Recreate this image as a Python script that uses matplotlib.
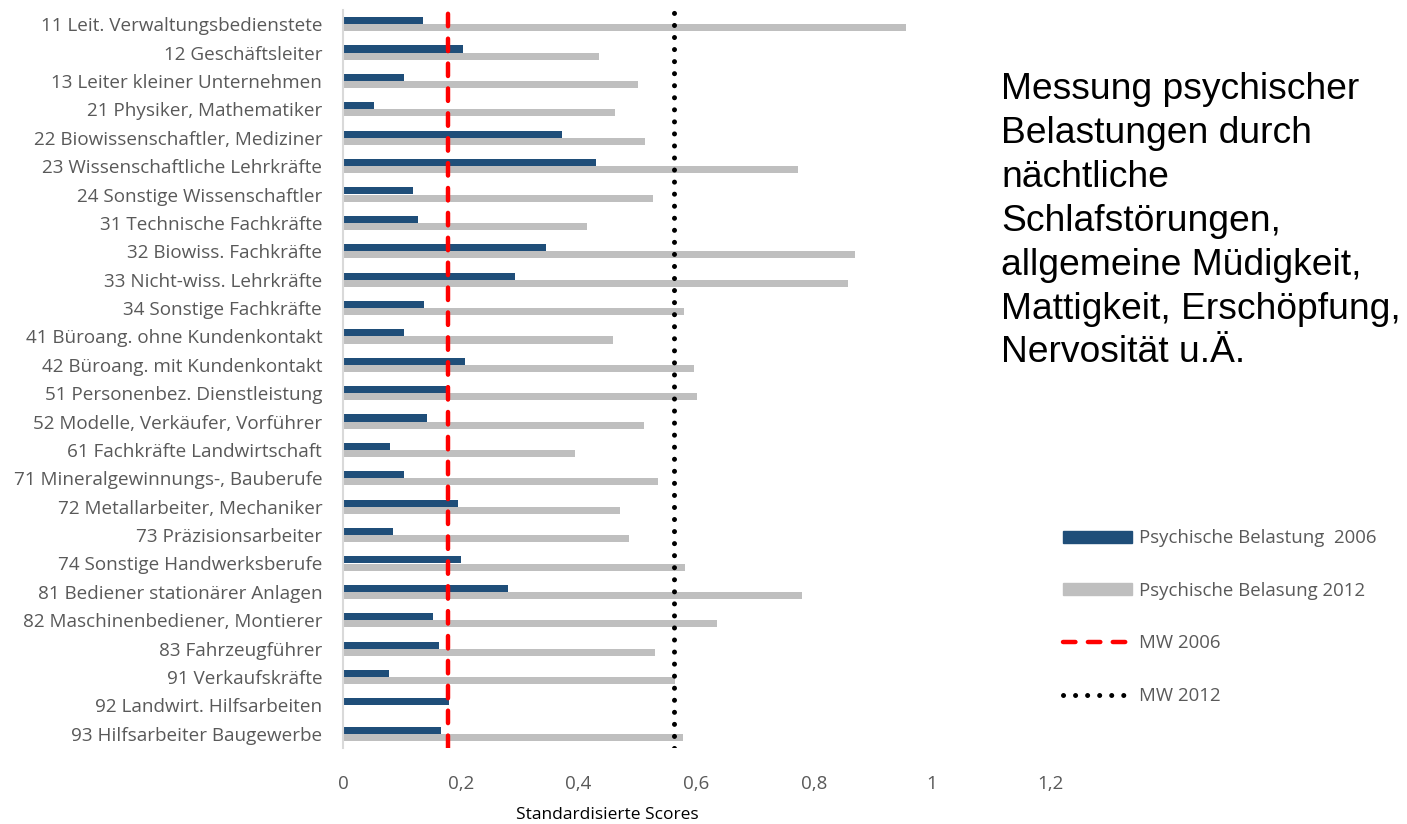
import numpy as np
import matplotlib.pyplot as plt
from matplotlib.patches import Patch
from matplotlib.lines import Line2D

# Berufsgruppen (ISCO) und standardisierte Scores
categories = [
    "11 Leit. Verwaltungsbedienstete",
    "12 Geschäftsleiter",
    "13 Leiter kleiner Unternehmen",
    "21 Physiker, Mathematiker",
    "22 Biowissenschaftler, Mediziner",
    "23 Wissenschaftliche Lehrkräfte",
    "24 Sonstige Wissenschaftler",
    "31 Technische Fachkräfte",
    "32 Biowiss. Fachkräfte",
    "33 Nicht-wiss. Lehrkräfte",
    "34 Sonstige Fachkräfte",
    "41 Büroang. ohne Kundenkontakt",
    "42 Büroang. mit Kundenkontakt",
    "51 Personenbez. Dienstleistung",
    "52 Modelle, Verkäufer, Vorführer",
    "61 Fachkräfte Landwirtschaft",
    "71 Mineralgewinnungs-, Bauberufe",
    "72 Metallarbeiter, Mechaniker",
    "73 Präzisionsarbeiter",
    "74 Sonstige Handwerksberufe",
    "81 Bediener stationärer Anlagen",
    "82 Maschinenbediener, Montierer",
    "83 Fahrzeugführer",
    "91 Verkaufskräfte",
    "92 Landwirt. Hilfsarbeiten",
    "93 Hilfsarbeiter Baugewerbe",
]

scores_2006 = [0.135, 0.204, 0.104, 0.052, 0.371, 0.430, 0.118, 0.127, 0.344,
               0.292, 0.138, 0.104, 0.207, 0.182, 0.142, 0.080, 0.104, 0.195,
               0.085, 0.200, 0.280, 0.153, 0.163, 0.078, 0.180, 0.166]

scores_2012 = [0.956, 0.435, 0.500, 0.462, 0.512, 0.773, 0.527, 0.414, 0.869,
               0.857, 0.578, 0.458, 0.596, 0.601, 0.511, 0.393, 0.535, 0.471,
               0.486, 0.581, 0.779, 0.635, 0.530, 0.563, 0.0, 0.577]

mean_2006 = 0.178
mean_2012 = 0.562

xticks = [0, 0.2, 0.4, 0.6, 0.8, 1.0, 1.2]
xtick_labels = ["0", "0,2", "0,4", "0,6", "0,8", "1", "1,2"]

BLUE = "#1f4e79"
GRAY = "#bfbfbf"
TEXT = "#595959"

DASHED = (0, (2.8, 2.8))
DOTTED = (0, (0.01, 2.4))

plt.rcParams['font.family'] = ['Open Sans', 'DejaVu Sans']

fig = plt.figure(figsize=(14.07, 8.24), dpi=100)
ax = fig.add_axes([343 / 1407, 1 - 748 / 824, (1050 - 343) / 1407, 738 / 824])

y = np.arange(len(categories))
h = 0.25
ax.barh(y - h / 2, scores_2006, height=h, color=BLUE)
ax.barh(y + h / 2, scores_2012, height=h, color=GRAY)

ax.axvline(mean_2006, color="red", lw=3.2, ls=DASHED, dash_capstyle="round")
ax.axvline(mean_2012, color="black", lw=3.6, ls=DOTTED, dash_capstyle="round")

ax.set_xlim(0, 1.2)
ax.set_ylim(len(categories) - 0.5, -0.5)
ax.set_yticks(y)
ax.set_yticklabels(categories, fontsize=13.6, color=TEXT)
ax.set_xticks(xticks)
ax.set_xticklabels(xtick_labels, fontsize=13.5, color=TEXT)
ax.tick_params(axis="both", length=0)
ax.tick_params(axis="x", pad=19.5)
ax.tick_params(axis="y", pad=15)

for s in ["top", "right", "bottom"]:
    ax.spines[s].set_visible(False)
ax.spines["left"].set_color("#d9d9d9")
ax.spines["left"].set_linewidth(1.5)

fig.text(607 / 1407, 1 - 815 / 824, "Standardisierte Scores", fontsize=12.5,
         ha="center", va="center", color="black")

fig.text(1001 / 1407, 1 - 72 / 824,
         "Messung psychischer\nBelastungen durch\nnächtliche\nSchlafstörungen,\n"
         "allgemeine Müdigkeit,\nMattigkeit, Erschöpfung,\nNervosität u.Ä.",
         fontsize=26.8, family="Liberation Sans", ha="left", va="top",
         linespacing=1.33, color="black")

handles = [
    Patch(color=BLUE, label="Psychische Belastung  2006"),
    Patch(color=GRAY, label="Psychische Belasung 2012"),
    Line2D([], [], color="red", lw=3.2, ls=DASHED, dash_capstyle="round",
           label="MW 2006"),
    Line2D([], [], color="black", lw=3.6, ls=DOTTED, dash_capstyle="round",
           label="MW 2012"),
]
leg = fig.legend(handles=handles, loc="upper left",
                 bbox_to_anchor=(1056 / 1407, 1 - 522 / 824),
                 frameon=False, fontsize=13.4, handlelength=3.7, handleheight=0.6,
                 labelspacing=1.85, handletextpad=0.35, borderaxespad=0)
for t in leg.get_texts():
    t.set_color(TEXT)

fig.savefig("out.png", dpi=100)
